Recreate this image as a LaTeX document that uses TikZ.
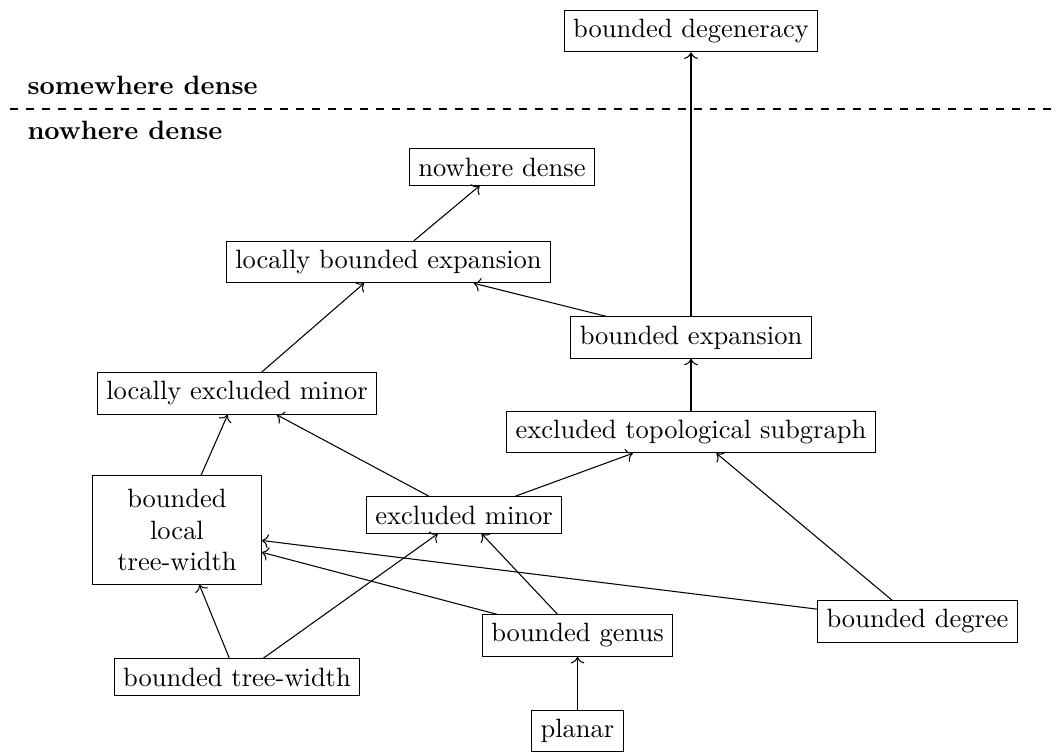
\documentclass[tikz,border=0pt]{standalone}
\usetikzlibrary{arrows.meta}
\begin{document}
\begin{tikzpicture}[x=0.3774pt,y=-0.3774pt,
  cls/.style={draw,rectangle,inner sep=3.33pt},
  lbl/.style={inner sep=0pt,anchor=base west,font=\bfseries},
  imp/.style={->}]
\useasboundingbox (0,0) rectangle (1057,751);
\node[lbl] (sd) at (27,94) {somewhere dense};
\node[lbl] (nd) at (27,139) {nowhere dense};
\coordinate (dl) at (10,109);
\coordinate (dr) at (1057,109);
\draw[dashed] (dl) -- (dr);

\node[cls] (deg) at (691,31) {bounded degeneracy};
\node[cls] (nwd) at (502,167) {nowhere dense};
\node[cls] (lbe) at (388.5,262) {locally bounded expansion};
\node[cls] (be) at (691,337.5) {bounded expansion};
\node[cls] (lem) at (237,393.5) {locally excluded minor};
\node[cls] (ets) at (691,432) {excluded topological subgraph};
\node[cls,text width=2cm,align=center,inner ysep=4.9pt] (bltw) at (177,530) {bounded local tree-width};
\node[cls] (em) at (464,515) {excluded minor};
\node[cls] (bg) at (577.5,635.5) {bounded genus};
\node[cls] (bd) at (917.5,621.5) {bounded degree};
\node[cls] (btw) at (237,677) {bounded tree-width};
\node[cls] (pl) at (577.5,731) {planar};

\draw[imp] (be) -- (deg);
\draw[imp] (be) -- (lbe);
\draw[imp] (lbe) -- (nwd);
\draw[imp] (lem) -- (lbe);
\draw[imp] (bltw) -- (lem);
\draw[imp] (em) -- (lem);
\draw[imp] (em) -- (ets);
\draw[imp] (ets) -- (be);
\draw[imp] (bd) -- (ets);
\draw[imp] (bd) -- (bltw);
\draw[imp] (bg) -- (bltw);
\draw[imp] (bg) -- (em);
\draw[imp] (btw) -- (bltw);
\draw[imp] (btw) -- (em);
\draw[imp] (pl) -- (bg);
\end{tikzpicture}
\end{document}
